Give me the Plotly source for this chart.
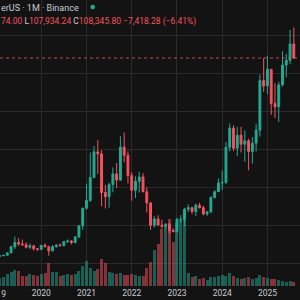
import plotly.graph_objects as go

# Monthly BTC/USDT candles, Feb 2019 .. Aug 2025 (month index 1 = Feb 2019)
month_index = list(range(1, 80))
opens = [3434, 3814, 4103, 5350, 8555, 10854, 10085, 9588, 8289, 9140, 7541,
         7195, 9352, 8523, 6412, 8620, 9448, 9138, 11335, 11649, 10776, 13791, 19695,
         28923, 33092, 45135, 58740, 57697, 37254, 35045, 41461, 47100, 43820, 61300, 56950,
         46216, 38466, 43160, 45510, 37630, 31801, 19942, 23296, 20048, 19423, 20491, 17165,
         16541, 23125, 23141, 28465, 29233, 27210, 30472, 29232, 25941, 26963, 34640, 37723,
         42283, 42582, 61131, 71280, 60672, 67540, 62773, 64628, 58974, 63327, 70216, 96408,
         93576, 102429, 84350, 82550, 94172, 104591, 107135, 115764.08]
highs = [4198, 4140, 5600, 9074, 13970, 13200, 12325, 10905, 10370, 9513, 7750,
         9578, 10500, 9189, 9468, 10067, 10380, 11444, 12468, 12050, 14100, 19863, 29300,
         41950, 58352, 61844, 64854, 59592, 41330, 42448, 50500, 52920, 67000, 69000, 59053,
         47990, 45821, 48190, 47444, 40023, 31986, 24668, 25211, 22800, 21085, 21480, 18387,
         23960, 25250, 29184, 31000, 29820, 31431, 31804, 30244, 27483, 35280, 38450, 44700,
         48969, 64000, 73777, 72797, 71979, 71997, 70079, 65660, 66498, 73620, 99588, 108353,
         109588, 102500, 95000, 95758, 111980, 110530, 123218, 124474.00]
lows = [3373, 3689, 4080, 5332, 7444, 9066, 9320, 7710, 7300, 6515, 6435,
        6871, 8445, 3782, 6150, 8117, 8833, 8893, 10518, 9825, 10374, 13195, 17572,
        28130, 32296, 44950, 47044, 30000, 28805, 29278, 37332, 39600, 43283, 53256, 42000,
        32917, 34322, 37155, 37578, 26700, 17622, 18782, 19520, 18125, 18190, 15476, 16256,
        16499, 21351, 19549, 26942, 25811, 24800, 28861, 25166, 24901, 26538, 34097, 37617,
        38555, 41884, 59005, 59191, 56552, 58402, 53485, 49000, 52550, 58946, 66835, 90500,
        89256, 78258, 76606, 74508, 93377, 98200, 105100, 107934.24]
closes = [3813, 4105, 5350, 8574, 10855, 10085, 9588, 8289, 9140, 7541, 7195,
          9352, 8523, 6410, 8620, 9448, 9138, 11335, 11649, 10776, 13791, 19695, 28923,
          33092, 45135, 58740, 57694, 37253, 35045, 41462, 47100, 43824, 61299, 56950, 46216,
          38466, 43160, 45510, 37630, 31801, 19942, 23293, 20050, 19423, 20491, 17164, 16542,
          23125, 23141, 28465, 29233, 27210, 30472, 29232, 25941, 26962, 34639, 37724, 42284,
          42582, 61130, 71280, 60672, 67540, 62772, 64628, 58974, 63327, 70215, 96408, 93577,
          102429, 84350, 82550, 94172, 104591, 107135, 115764.08, 108345.80]
# Volume (thousand BTC)
volumes = [800, 900, 1200, 1400, 1600, 1500, 1000, 1000, 1200, 1100, 1000,
           1200, 1300, 2300, 1400, 1400, 1000, 1100, 1200, 1100, 1200, 1500, 2000,
           2500, 1800, 1500, 1700, 2700, 2300, 1400, 1300, 1200, 1300, 1100, 1100,
           1200, 1100, 1000, 1000, 1800, 2400, 3600, 4200, 5700, 5900, 6700, 4400,
           6300, 6600, 7400, 1300, 900, 1000, 700, 800, 600, 900, 900, 1000,
           1100, 1000, 1300, 1000, 800, 700, 800, 900, 700, 800, 1100, 900,
           800, 700, 700, 600, 500, 400, 500, 400]
year_ticks = [12, 24, 36, 48, 60, 72]
year_labels = ["2020", "2021", "2022", "2023", "2024", "2025"]

UP = "#22ab94"
DOWN = "#f7525f"
BG = "#131313"
GRID = "#2a2a2a"
TXT = "#c9ccd4"

vol_colors = ["rgba(34,171,148,0.5)" if c >= o else "rgba(247,82,95,0.5)"
              for o, c in zip(opens, closes)]

last_close = closes[-1]
change = closes[-1] - opens[-1]
pct = change / opens[-1] * 100

fig = go.Figure()
fig.add_trace(go.Bar(x=month_index, y=volumes, marker_color=vol_colors,
                     marker_line_width=0, width=0.8, yaxis="y2", hoverinfo="skip"))
fig.add_trace(go.Candlestick(x=month_index, open=opens, high=highs, low=lows, close=closes,
                             increasing=dict(line=dict(color=UP, width=1), fillcolor=UP),
                             decreasing=dict(line=dict(color=DOWN, width=1), fillcolor=DOWN),
                             whiskerwidth=0))

fig.add_hline(y=last_close, line=dict(color=DOWN, width=1, dash="dot"), opacity=0.8)

fig.add_annotation(xref="paper", yref="paper", x=-0.003, y=1.0, yshift=-1,
                   xanchor="left", yanchor="top", showarrow=False,
                   text="erUS · 1M · Binance",
                   font=dict(family="Roboto", size=9, color=TXT))
# market-status dot
fig.add_shape(type="circle", xref="paper", yref="paper",
              x0=90.4/300, x1=95.0/300, y0=1 - 9.3/286, y1=1 - 4.7/286,
              fillcolor=UP, line=dict(width=0))
fig.add_annotation(xref="paper", yref="paper", x=-0.003, y=1.0, yshift=-14,
                   xanchor="left", yanchor="top", showarrow=False,
                   text=(f"<span style='color:{DOWN}'>74.00</span> L<span style='color:{DOWN}'>{lows[-1]:,.2f}</span>"
                         f" C<span style='color:{DOWN}'>{last_close:,.2f} −{abs(change):,.2f} (−{abs(pct):.2f}%)</span>"),
                   font=dict(family="Roboto", size=8.5, color=TXT))
fig.add_annotation(xref="paper", yref="paper", x=-4/300, y=0, yshift=-1,
                   xanchor="center", yanchor="top", showarrow=False,
                   text="2019", font=dict(family="Roboto", size=8.5, color=TXT))

fig.update_layout(
    width=300, height=300,
    margin=dict(l=0, r=0, t=0, b=14),
    paper_bgcolor=BG, plot_bgcolor=BG,
    showlegend=False,
    bargap=0,
    xaxis=dict(range=[1.061, 80.64], tickvals=year_ticks, ticktext=year_labels,
               showgrid=True, gridcolor=GRID, gridwidth=1, zeroline=False,
               showline=False, ticks="", rangeslider=dict(visible=False),
               tickfont=dict(family="Roboto", size=8.5, color=TXT)),
    yaxis=dict(range=[-12156, 139007], dtick=20000, showgrid=True, gridcolor=GRID,
               zeroline=False, showticklabels=False, ticks=""),
    yaxis2=dict(range=[0, 28600], overlaying="y", visible=False),
)

fig.write_html("out.html")
